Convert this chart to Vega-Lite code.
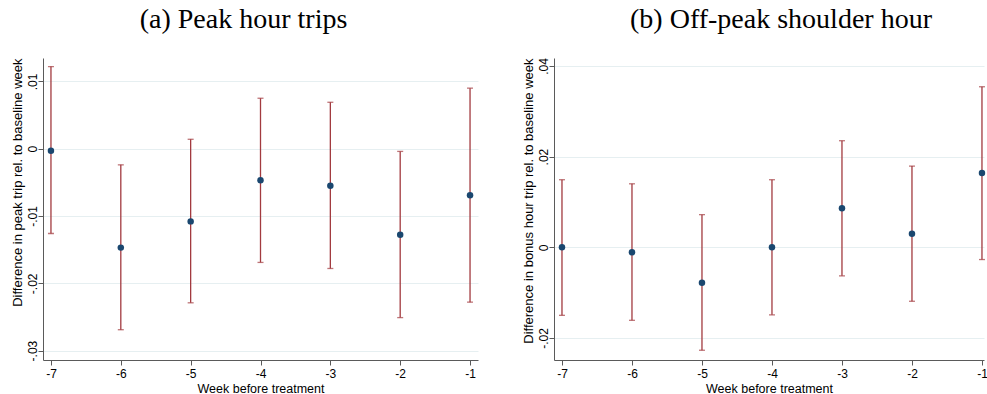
{
  "$schema": "https://vega.github.io/schema/vega-lite/v6.json",
  "background": "white",
  "padding": {"left": 10, "top": 5, "right": 0, "bottom": 0},
  "spacing": 43,
  "datasets": {
    "peak": [
      {"week": -7, "est": -0.0003, "lo": -0.0126, "hi": 0.0122},
      {"week": -6, "est": -0.0147, "lo": -0.0269, "hi": -0.0024},
      {"week": -5, "est": -0.0108, "lo": -0.0229, "hi": 0.0014},
      {"week": -4, "est": -0.0047, "lo": -0.0169, "hi": 0.0075},
      {"week": -3, "est": -0.0055, "lo": -0.0178, "hi": 0.0069},
      {"week": -2, "est": -0.0128, "lo": -0.0251, "hi": -0.0004},
      {"week": -1, "est": -0.0069, "lo": -0.0228, "hi": 0.0090}
    ],
    "shoulder": [
      {"week": -7, "est": 0.0000, "lo": -0.0150, "hi": 0.0149},
      {"week": -6, "est": -0.0011, "lo": -0.0161, "hi": 0.0140},
      {"week": -5, "est": -0.0078, "lo": -0.0227, "hi": 0.0072},
      {"week": -4, "est": 0.0000, "lo": -0.0149, "hi": 0.0149},
      {"week": -3, "est": 0.0086, "lo": -0.0063, "hi": 0.0235},
      {"week": -2, "est": 0.0030, "lo": -0.0119, "hi": 0.0179},
      {"week": -1, "est": 0.0164, "lo": -0.0027, "hi": 0.0354}
    ]
  },
  "hconcat": [
    {
      "title": {"text": "(a) Peak hour trips", "dx": -17},
      "width": 435,
      "height": 302,
      "data": {"name": "peak"},
      "encoding": {
        "x": {
          "field": "week", "type": "quantitative",
          "scale": {"domain": [-7.114, -0.886], "nice": false, "zero": false},
          "axis": {"title": "Week before treatment", "values": [-7, -6, -5, -4, -3, -2, -1], "labelExpr": "'' + datum.value", "grid": false}
        }
      },
      "layer": [
        {
          "mark": {"type": "rule", "color": "#a23a3f", "strokeWidth": 1.3},
          "encoding": {
            "y": {
              "field": "lo", "type": "quantitative",
              "scale": {"domain": [-0.0314, 0.01348], "nice": false, "zero": false},
              "axis": {
                "title": "Difference in peak trip rel. to baseline week",
                "values": [-0.03, -0.02, -0.01, 0, 0.01],
                "labelExpr": "datum.value == 0 ? '0' : (datum.value < 0 ? '-' : '') + replace(format(abs(datum.value), '.2f'), '0.', '.')"
              }
            },
            "y2": {"field": "hi"}
          }
        },
        {
          "mark": {"type": "tick", "orient": "horizontal", "color": "#a23a3f", "size": 6, "thickness": 1.3},
          "encoding": {"y": {"field": "lo", "type": "quantitative"}}
        },
        {
          "mark": {"type": "tick", "orient": "horizontal", "color": "#a23a3f", "size": 6, "thickness": 1.3},
          "encoding": {"y": {"field": "hi", "type": "quantitative"}}
        },
        {
          "mark": {"type": "point", "filled": true, "opacity": 1, "color": "#1a476f", "size": 42},
          "encoding": {"y": {"field": "est", "type": "quantitative"}}
        }
      ]
    },
    {
      "title": {"text": "(b) Off-peak shoulder hour", "dx": 12},
      "width": 430,
      "height": 302,
      "data": {"name": "shoulder"},
      "encoding": {
        "x": {
          "field": "week", "type": "quantitative",
          "scale": {"domain": [-7.114, -0.971], "nice": false, "zero": false},
          "axis": {"title": "Week before treatment", "values": [-7, -6, -5, -4, -3, -2, -1], "labelExpr": "'' + datum.value", "grid": false}
        }
      },
      "layer": [
        {
          "mark": {"type": "rule", "color": "#a23a3f", "strokeWidth": 1.3},
          "encoding": {
            "y": {
              "field": "lo", "type": "quantitative",
              "scale": {"domain": [-0.02485, 0.04174], "nice": false, "zero": false},
              "axis": {
                "title": "Difference in bonus hour trip rel. to baseline week",
                "values": [-0.02, 0, 0.02, 0.04],
                "labelExpr": "datum.value == 0 ? '0' : (datum.value < 0 ? '-' : '') + replace(format(abs(datum.value), '.2f'), '0.', '.')"
              }
            },
            "y2": {"field": "hi"}
          }
        },
        {
          "mark": {"type": "tick", "orient": "horizontal", "color": "#a23a3f", "size": 6, "thickness": 1.3},
          "encoding": {"y": {"field": "lo", "type": "quantitative"}}
        },
        {
          "mark": {"type": "tick", "orient": "horizontal", "color": "#a23a3f", "size": 6, "thickness": 1.3},
          "encoding": {"y": {"field": "hi", "type": "quantitative"}}
        },
        {
          "mark": {"type": "point", "filled": true, "opacity": 1, "color": "#1a476f", "size": 42},
          "encoding": {"y": {"field": "est", "type": "quantitative"}}
        }
      ]
    }
  ],
  "config": {
    "view": {"stroke": null},
    "title": {
      "font": "Liberation Serif",
      "fontSize": 28,
      "fontWeight": "normal",
      "color": "#000000",
      "anchor": "middle",
      "baseline": "alphabetic",
      "offset": 24
    },
    "axis": {
      "domainColor": "#5a5a5a",
      "domainWidth": 1,
      "tickColor": "#5a5a5a",
      "tickSize": 5,
      "tickWidth": 1,
      "gridColor": "#e6eff1",
      "gridWidth": 1,
      "labelFont": "Liberation Sans",
      "labelFontSize": 12,
      "labelColor": "#000000",
      "titleFont": "Liberation Sans",
      "titleFontSize": 12.5,
      "titleFontWeight": "normal",
      "titleColor": "#000000"
    },
    "axisX": {"labelPadding": 3, "titlePadding": 3},
    "axisY": {
      "labelAngle": -90,
      "labelAlign": "center",
      "labelBaseline": "bottom",
      "labelPadding": -1,
      "titlePadding": 2,
      "titleFontSize": 13,
      "titleAnchor": "end",
      "grid": true
    }
  }
}
